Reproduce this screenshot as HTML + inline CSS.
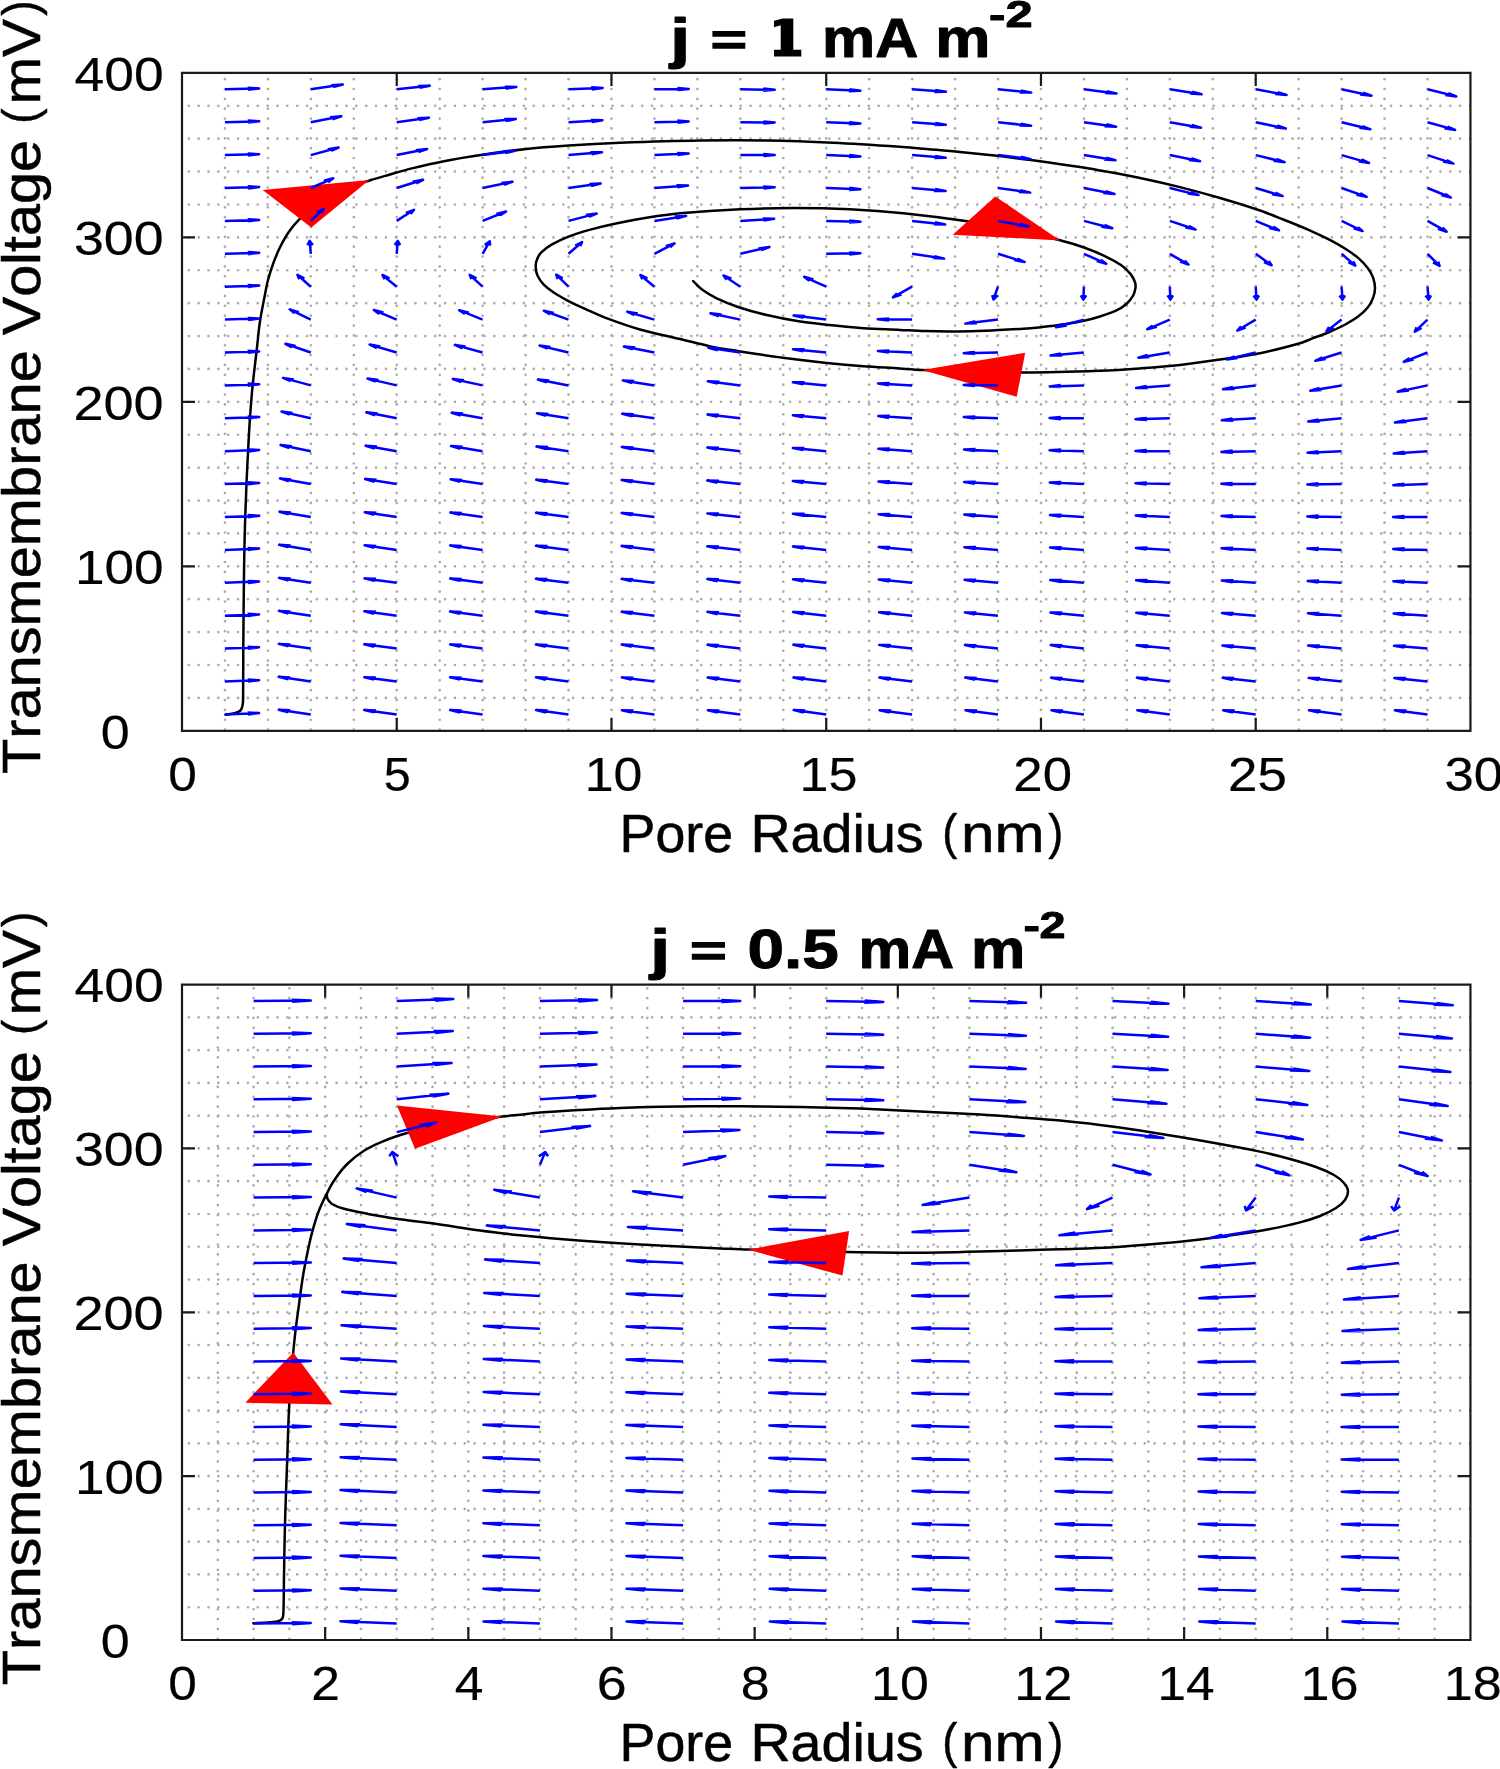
<!DOCTYPE html>
<html><head><meta charset="utf-8"><title>phase plots</title>
<style>html,body{margin:0;padding:0;background:#fff}svg{display:block}text{font-family:"Liberation Sans",sans-serif;fill:#000;font-kerning:none;stroke:#000;stroke-width:0.5px;stroke-linejoin:round}</style></head>
<body><svg width="1500" height="1769" viewBox="0 0 1500 1769">
<rect width="1500" height="1769" fill="#fff"/>
<path d="M224.95 729.60V72.90M267.90 729.60V72.90M310.85 729.60V72.90M353.79 729.60V72.90M396.74 729.60V72.90M439.69 729.60V72.90M482.64 729.60V72.90M525.59 729.60V72.90M568.54 729.60V72.90M611.48 729.60V72.90M654.43 729.60V72.90M697.38 729.60V72.90M740.33 729.60V72.90M783.28 729.60V72.90M826.23 729.60V72.90M869.17 729.60V72.90M912.12 729.60V72.90M955.07 729.60V72.90M998.02 729.60V72.90M1040.97 729.60V72.90M1083.91 729.60V72.90M1126.86 729.60V72.90M1169.81 729.60V72.90M1212.76 729.60V72.90M1255.71 729.60V72.90M1298.66 729.60V72.90M1341.61 729.60V72.90M1384.55 729.60V72.90M1427.50 729.60V72.90" fill="none" stroke="#adadad" stroke-width="2.7" stroke-linecap="round" stroke-dasharray="0.01 9.845"/>
<path d="M188.80 697.90H1470.45M188.80 665.01H1470.45M188.80 632.12H1470.45M188.80 599.22H1470.45M188.80 566.32H1470.45M188.80 533.43H1470.45M188.80 500.53H1470.45M188.80 467.64H1470.45M188.80 434.74H1470.45M188.80 401.85H1470.45M188.80 368.95H1470.45M188.80 336.06H1470.45M188.80 303.16H1470.45M188.80 270.27H1470.45M188.80 237.38H1470.45M188.80 204.48H1470.45M188.80 171.58H1470.45M188.80 138.69H1470.45M188.80 105.79H1470.45" fill="none" stroke="#adadad" stroke-width="2.7" stroke-linecap="round" stroke-dasharray="0.01 9.845"/>
<path d="M182.00 72.90H1470.45V730.80H182.00ZM396.74 730.80v-13M396.74 72.90v13M611.48 730.80v-13M611.48 72.90v13M826.23 730.80v-13M826.23 72.90v13M1040.97 730.80v-13M1040.97 72.90v13M1255.71 730.80v-13M1255.71 72.90v13M182.00 566.32h13M1470.45 566.32h-13M182.00 401.85h13M1470.45 401.85h-13M182.00 237.38h13M1470.45 237.38h-13" fill="none" stroke="#1a1a1a" stroke-width="2.2" stroke-linejoin="miter"/>
<path d="M225.5 714.7C228.5 714.2 231.6 714.0 234.5 713.2C236.6 712.6 239.1 711.9 240.5 710.5C241.8 709.2 242.2 706.9 242.6 705.0C243.1 702.7 243.1 700.3 243.1 698.0C243.3 680.9 243.2 663.8 243.3 646.7C243.4 625.1 243.7 603.6 243.9 582.0C244.0 570.9 244.2 559.9 244.4 548.8C244.6 538.5 244.9 528.3 245.2 518.0C245.6 506.4 246.0 494.8 246.5 483.2C247.0 472.4 247.5 461.5 248.1 450.7C248.7 439.6 249.2 428.4 250.0 417.3C250.8 406.5 251.6 395.6 252.7 384.8C253.9 373.2 255.4 361.6 256.7 350.0C257.8 340.7 258.5 331.3 259.9 322.0C261.2 313.3 263.0 304.7 264.7 296.0C265.7 290.7 266.6 285.3 268.0 280.0C269.5 274.4 271.3 268.8 273.3 263.3C275.3 257.9 277.4 252.5 280.0 247.3C282.8 241.8 285.8 236.3 289.3 231.3C292.4 226.8 296.1 222.6 300.0 218.7C305.7 213.1 311.5 207.5 318.0 203.0C324.8 198.3 332.4 194.3 340.0 191.0C350.0 186.6 360.6 183.4 371.0 180.0C377.3 177.9 383.7 176.3 390.0 174.5C397.3 172.4 404.6 170.2 412.0 168.4C422.6 165.8 433.3 163.3 444.0 161.2C456.7 158.7 469.6 156.7 482.4 154.8C496.2 152.7 510.1 150.7 524.0 149.2C538.9 147.6 553.9 146.5 568.8 145.5C585.9 144.4 602.9 143.5 620.0 142.8C646.7 141.8 673.3 140.9 700.0 140.5C722.2 140.2 744.5 140.1 766.7 140.5C788.9 140.9 811.1 141.7 833.3 142.7C855.5 143.7 877.8 145.2 900.0 146.7C906.7 147.1 913.3 147.8 920.0 148.4C933.3 149.6 946.7 150.6 960.0 151.9C973.3 153.2 986.7 154.6 1000.0 156.1C1013.4 157.7 1026.7 159.4 1040.0 161.2C1053.4 163.0 1066.7 165.0 1080.0 167.1C1086.7 168.1 1093.3 169.3 1100.0 170.5C1113.3 172.9 1126.7 175.2 1140.0 178.0C1153.4 180.8 1166.7 183.8 1180.0 187.1C1193.4 190.5 1206.7 194.1 1220.0 198.0C1233.4 201.9 1246.8 206.0 1260.0 210.5C1268.3 213.3 1276.4 216.8 1284.5 220.0C1292.4 223.1 1300.3 226.2 1308.0 229.6C1315.2 232.8 1322.3 236.1 1329.3 239.7C1334.8 242.5 1340.1 245.5 1345.3 248.8C1349.7 251.6 1354.1 254.5 1358.1 257.9C1361.6 260.9 1364.9 264.3 1367.7 268.0C1369.9 270.9 1371.9 274.2 1373.1 277.6C1374.3 281.0 1375.0 284.7 1375.0 288.3C1375.0 291.5 1374.2 294.9 1373.1 297.9C1371.8 301.3 1370.0 304.7 1367.7 307.5C1365.0 310.9 1361.6 313.9 1358.1 316.5C1354.1 319.5 1349.7 322.1 1345.3 324.5C1340.1 327.3 1334.7 329.7 1329.3 332.0C1323.4 334.5 1317.2 336.6 1311.2 338.9C1307.5 340.3 1303.8 342.1 1300.0 343.2C1286.8 346.9 1273.5 350.4 1260.0 353.2C1246.8 355.9 1233.4 357.6 1220.0 359.6C1206.7 361.5 1193.4 363.4 1180.0 364.9C1166.7 366.4 1153.3 367.4 1140.0 368.4C1126.7 369.4 1113.3 370.3 1100.0 370.8C1074.4 371.7 1048.9 372.6 1023.3 372.5C989.5 372.3 955.8 371.0 922.0 369.9C914.7 369.7 907.3 369.0 900.0 368.5C887.8 367.7 875.5 367.1 863.3 366.2C851.1 365.3 838.9 364.2 826.7 362.9C812.0 361.4 797.3 359.7 782.7 357.8C768.0 355.8 753.3 353.5 738.7 351.2C728.9 349.6 719.0 348.1 709.3 346.1C699.5 344.1 689.8 341.3 680.0 339.0C666.7 335.8 653.2 333.2 640.0 329.5C629.3 326.5 618.9 322.8 608.5 318.9C600.2 315.8 592.1 311.9 584.0 308.3C578.6 305.9 573.2 303.5 568.0 300.8C563.3 298.3 558.5 295.8 554.1 292.8C550.4 290.3 546.6 287.5 543.5 284.3C541.1 281.8 539.1 278.8 537.6 275.7C536.5 273.4 536.0 270.8 535.8 268.3C535.6 265.8 535.7 263.1 536.5 260.8C537.5 257.8 539.1 254.6 541.3 252.3C544.3 249.1 548.2 246.5 552.0 244.3C557.1 241.4 562.5 238.9 568.0 236.8C574.9 234.1 582.1 231.9 589.3 229.9C598.1 227.5 607.0 225.4 616.0 223.5C626.6 221.3 637.3 219.3 648.0 217.6C658.6 215.9 669.3 214.3 680.0 213.3C700.0 211.5 720.0 210.2 740.0 209.3C757.7 208.5 775.5 208.0 793.3 208.0C812.2 208.0 831.1 208.4 850.0 209.3C867.8 210.2 885.6 211.5 903.3 213.3C924.7 215.5 946.0 218.2 967.3 221.3C984.9 223.9 1002.5 226.9 1020.0 230.5C1033.4 233.3 1046.7 236.8 1060.0 240.3C1068.1 242.4 1076.1 244.7 1084.0 247.5C1091.2 250.1 1098.4 253.0 1105.3 256.3C1110.8 258.9 1116.3 261.8 1121.3 265.3C1124.9 267.8 1128.2 271.0 1130.9 274.4C1132.8 276.9 1134.2 279.9 1135.2 282.9C1135.7 284.6 1135.7 286.5 1135.4 288.3C1135.0 290.8 1134.3 293.5 1133.1 295.7C1131.4 298.6 1129.2 301.5 1126.7 303.7C1123.5 306.5 1119.8 308.9 1116.0 310.7C1110.9 313.1 1105.4 314.8 1100.0 316.5C1094.7 318.2 1089.4 319.6 1084.0 320.8C1077.0 322.3 1069.8 323.4 1062.7 324.5C1055.6 325.6 1048.4 326.4 1041.3 327.2C1034.2 327.9 1027.1 328.5 1020.0 329.0C1008.3 329.7 996.7 330.4 985.0 330.8C975.6 331.2 966.1 331.4 956.7 331.4C946.1 331.5 935.6 331.4 925.0 331.1C916.7 330.9 908.3 330.3 900.0 329.9C887.8 329.3 875.5 329.0 863.3 328.2C851.1 327.3 838.9 326.1 826.7 324.8C816.9 323.7 807.0 322.7 797.3 321.1C787.5 319.5 777.7 317.6 768.0 315.3C758.1 313.0 748.3 310.4 738.7 307.2C731.2 304.7 723.8 301.8 716.7 298.4C711.6 295.9 706.6 293.0 702.0 289.6C698.7 287.2 696.1 284.0 693.2 281.2" fill="none" stroke="#000" stroke-width="2.5" stroke-linecap="round" stroke-linejoin="round"/>
<polygon points="262.7,190.0 369.3,180.0 311.3,227.6" fill="#ff0000"/>
<polygon points="995.3,196.5 952.7,234.7 1060.2,240.4" fill="#ff0000"/>
<polygon points="922.0,369.9 1025.2,352.8 1016.7,396.8" fill="#ff0000"/>
<path d="M224.9 714.4L259.1 713.1M247.6 712.5L259.1 713.1L248.1 714.5M224.9 681.5L259.1 680.2M247.6 679.6L259.1 680.2L248.1 681.6M224.9 648.6L259.1 647.3M247.6 646.7L259.1 647.3L248.1 648.7M224.9 615.7L259.1 614.4M247.6 613.8L259.1 614.4L248.1 615.9M224.9 582.8L259.1 581.5M247.6 580.9L259.1 581.5L248.1 583.0M224.9 549.9L259.1 548.6M247.6 548.0L259.1 548.6L248.1 550.1M224.9 517.0L259.2 515.8M247.6 515.1L259.2 515.8L248.1 517.2M224.9 484.1L259.2 482.9M247.6 482.3L259.2 482.9L248.1 484.3M224.9 451.2L259.2 450.0M247.6 449.4L259.2 450.0L248.1 451.4M224.9 418.3L259.2 417.1M247.6 416.5L259.2 417.1L248.1 418.5M224.9 385.4L259.2 384.3M247.6 383.6L259.2 384.3L248.1 385.7M224.9 352.5L259.2 351.4M247.6 350.7L259.2 351.4L248.1 352.8M224.9 319.6L259.2 318.5M247.7 317.9L259.2 318.5L248.1 319.9M224.9 286.7L259.2 285.6M247.7 285.0L259.2 285.6L248.1 287.0M224.9 253.8L259.2 252.8M247.7 252.1L259.2 252.8L248.1 254.2M224.9 220.9L259.2 219.9M247.7 219.2L259.2 219.9L248.1 221.3M224.9 188.0L259.2 187.0M247.7 186.3L259.2 187.0L248.1 188.4M224.9 155.1L259.2 154.2M247.7 153.5L259.2 154.2L248.1 155.5M224.9 122.2L259.2 121.3M247.7 120.6L259.2 121.3L248.1 122.6M224.9 89.3L259.2 88.4M247.7 87.7L259.2 88.4L248.1 89.8M310.8 714.4L278.7 709.7M288.4 712.2L278.7 709.7L290.3 710.3M310.8 681.5L278.7 676.8M288.4 679.3L278.7 676.8L290.3 677.4M310.8 648.6L278.8 643.9M288.4 646.4L278.8 643.9L290.4 644.5M310.8 615.7L278.9 610.9M288.4 613.5L278.9 610.9L290.4 611.5M310.8 582.8L279.0 577.9M288.5 580.5L279.0 577.9L290.6 578.6M310.8 549.9L279.2 544.8M288.6 547.4L279.2 544.8L290.7 545.5M310.8 517.0L279.5 511.7M288.7 514.4L279.5 511.7L291.0 512.5M310.8 484.1L279.9 478.4M288.9 481.2L279.9 478.4L291.3 479.4M310.8 451.2L280.6 445.1M289.3 448.0L280.6 445.1L291.9 446.2M310.8 418.3L281.5 411.6M289.8 414.7L281.5 411.6L292.6 412.9M310.8 385.4L283.0 377.9M290.6 381.2L283.0 377.9L293.8 379.5M310.8 352.5L285.4 343.8M292.0 347.5L285.4 343.8L295.7 345.9M310.8 319.6L289.7 309.4M294.5 313.4L289.7 309.4L298.9 312.2M310.8 286.7L297.4 274.8M299.3 279.2L297.4 274.8L304.4 278.3M310.8 253.8L309.7 240.9M307.4 245.2L309.7 240.9L312.9 245.1M310.8 220.9L323.5 208.9M316.8 212.5L323.5 208.9L321.9 213.3M310.8 188.0L333.3 178.3M323.8 180.8L333.3 178.3L328.0 182.2M310.8 155.1L338.6 147.5M327.8 149.2L338.6 147.5L331.1 150.9M310.8 122.2L341.3 116.3M330.0 117.3L341.3 116.3L332.5 119.2M310.8 89.3L342.7 84.6M331.2 85.2L342.7 84.6L333.2 87.1M396.7 714.4L364.3 710.0M374.1 712.4L364.3 710.0L376.0 710.5M396.7 681.5L364.3 677.2M374.1 679.6L364.3 677.2L375.9 677.6M396.7 648.6L364.3 644.3M374.1 646.7L364.3 644.3L375.9 644.7M396.7 615.7L364.4 611.3M374.1 613.7L364.4 611.3L376.0 611.8M396.7 582.8L364.5 578.4M374.2 580.8L364.5 578.4L376.1 578.8M396.7 549.9L364.6 545.3M374.2 547.8L364.6 545.3L376.2 545.9M396.7 517.0L364.8 512.2M374.3 514.8L364.8 512.2L376.4 512.8M396.7 484.1L365.1 479.0M374.5 481.7L365.1 479.0L376.6 479.8M396.7 451.2L365.6 445.7M374.7 448.5L365.6 445.7L377.0 446.6M396.7 418.3L366.3 412.3M375.1 415.2L366.3 412.3L377.6 413.4M396.7 385.4L367.5 378.6M375.7 381.7L367.5 378.6L378.6 380.0M396.7 352.5L369.7 344.6M376.9 348.0L369.7 344.6L380.3 346.4M396.7 319.6L373.8 310.0M379.3 313.9L373.8 310.0L383.4 312.5M396.7 286.7L382.4 275.0M384.6 279.3L382.4 275.0L389.6 278.4M396.7 253.8L397.8 240.9M394.7 245.1L397.8 240.9L400.2 245.2M396.7 220.9L414.0 209.8M405.9 212.9L414.0 209.8L410.7 214.0M396.7 188.0L423.1 179.8M412.6 181.7L423.1 179.8L416.2 183.3M396.7 155.1L427.1 149.1M415.8 150.2L427.1 149.1L418.4 152.0M396.7 122.2L428.9 117.7M417.3 118.2L428.9 117.7L419.2 120.1M396.7 89.3L429.8 85.8M418.1 86.0L429.8 85.8L419.6 87.9M482.6 714.4L450.2 710.1M460.0 712.5L450.2 710.1L461.8 710.5M482.6 681.5L450.1 677.3M460.0 679.6L450.1 677.3L461.8 677.7M482.6 648.6L450.1 644.4M460.0 646.7L450.1 644.4L461.7 644.8M482.6 615.7L450.1 611.5M460.0 613.8L450.1 611.5L461.7 611.9M482.6 582.8L450.2 578.5M460.0 580.9L450.2 578.5L461.8 579.0M482.6 549.9L450.3 545.5M460.0 547.9L450.3 545.5L461.9 546.0M482.6 517.0L450.4 512.5M460.1 514.9L450.4 512.5L462.0 513.0M482.6 484.1L450.7 479.3M460.2 481.9L450.7 479.3L462.2 479.9M482.6 451.2L451.1 446.1M460.4 448.7L451.1 446.1L462.6 446.8M482.6 418.3L451.7 412.7M460.7 415.5L451.7 412.7L463.1 413.6M482.6 385.4L452.8 379.0M461.3 382.0L452.8 379.0L464.0 380.2M482.6 352.5L454.8 344.9M462.4 348.3L454.8 344.9L465.6 346.6M482.6 319.6L459.2 310.2M464.9 314.0L459.2 310.2L468.9 312.6M482.6 286.7L469.7 274.8M471.4 279.1L469.7 274.8L476.5 278.3M482.6 253.8L489.8 241.2M484.7 245.1L489.8 241.2L490.1 245.6M482.6 220.9L506.1 211.5M496.3 213.9L506.1 211.5L500.3 215.3M482.6 188.0L512.5 181.7M501.3 182.9L512.5 181.7L504.0 184.7M482.6 155.1L514.9 150.7M503.3 151.2L514.9 150.7L505.2 153.1M482.6 122.2L515.9 119.0M504.2 119.1L515.9 119.0L505.6 121.1M482.6 89.3L516.4 86.9M504.7 86.7L516.4 86.9L505.8 88.7M568.5 714.4L536.1 710.1M545.9 712.5L536.1 710.1L547.7 710.5M568.5 681.5L536.0 677.3M545.8 679.7L536.0 677.3L547.6 677.7M568.5 648.6L535.9 644.5M545.8 646.8L535.9 644.5L547.6 644.9M568.5 615.7L535.9 611.6M545.8 613.9L535.9 611.6L547.5 612.0M568.5 582.8L535.9 578.7M545.8 581.0L535.9 578.7L547.5 579.1M568.5 549.9L536.0 545.8M545.8 548.1L536.0 545.8L547.6 546.1M568.5 517.0L536.1 512.8M545.9 515.1L536.1 512.8L547.7 513.2M568.5 484.1L536.2 479.7M546.0 482.1L536.2 479.7L547.8 480.2M568.5 451.2L536.5 446.5M546.1 449.0L536.5 446.5L548.1 447.1M568.5 418.3L537.0 413.2M546.3 415.8L537.0 413.2L548.5 413.9M568.5 385.4L537.9 379.6M546.7 382.4L537.9 379.6L549.2 380.6M568.5 352.5L539.6 345.6M547.7 348.7L539.6 345.6L550.6 347.0M568.5 319.6L543.8 310.7M550.0 314.4L543.8 310.7L553.9 312.9M568.5 286.7L556.2 274.7M557.7 279.0L556.2 274.7L562.8 278.3M568.5 253.8L582.1 242.0M575.1 245.5L582.1 242.0L580.1 246.3M568.5 220.9L596.7 213.6M585.9 215.1L596.7 213.6L589.0 216.8M568.5 188.0L600.7 183.5M589.2 184.1L600.7 183.5L591.1 186.0M568.5 155.1L602.0 152.2M590.3 152.2L602.0 152.2L591.6 154.2M568.5 122.2L602.5 120.2M590.8 119.9L602.5 120.2L591.7 121.9M568.5 89.3L602.7 87.9M591.1 87.3L602.7 87.9L591.7 89.4M654.4 714.4L621.9 710.2M631.8 712.5L621.9 710.2L633.6 710.6M654.4 681.5L621.8 677.4M631.7 679.7L621.8 677.4L633.4 677.8M654.4 648.6L621.7 644.6M631.7 646.9L621.7 644.6L633.4 644.9M654.4 615.7L621.7 611.8M631.6 614.1L621.7 611.8L633.3 612.1M654.4 582.8L621.6 578.9M631.6 581.2L621.6 578.9L633.3 579.2M654.4 549.9L621.6 546.0M631.6 548.3L621.6 546.0L633.3 546.3M654.4 517.0L621.7 513.1M631.6 515.4L621.7 513.1L633.3 513.4M654.4 484.1L621.7 480.1M631.7 482.4L621.7 480.1L633.4 480.4M654.4 451.2L621.9 447.0M631.8 449.4L621.9 447.0L633.5 447.4M654.4 418.3L622.2 413.8M631.9 416.3L622.2 413.8L633.8 414.3M654.4 385.4L622.8 380.4M632.1 383.0L622.8 380.4L634.3 381.1M654.4 352.5L623.9 346.6M632.7 349.4L623.9 346.6L635.3 347.6M654.4 319.6L627.2 311.7M634.5 315.2L627.2 311.7L637.8 313.5M654.4 286.7L640.3 275.0M642.4 279.3L640.3 275.0L647.5 278.4M654.4 253.8L674.5 243.4M665.7 246.2L674.5 243.4L670.1 247.4M654.4 220.9L686.1 215.9M674.6 216.6L686.1 215.9L676.7 218.5M654.4 188.0L688.1 185.4M676.4 185.2L688.1 185.4L677.5 187.3M654.4 155.1L688.6 153.6M677.0 153.1L688.6 153.6L677.6 155.1M654.4 122.2L688.7 121.4M677.2 120.6L688.7 121.4L677.6 122.7M654.4 89.3L688.8 88.9M677.3 88.0L688.8 88.9L677.5 90.1M740.3 714.4L707.8 710.2M717.7 712.5L707.8 710.2L719.4 710.6M740.3 681.5L707.7 677.5M717.6 679.8L707.7 677.5L719.3 677.8M740.3 648.6L707.5 644.7M717.5 647.0L707.5 644.7L719.2 645.0M740.3 615.7L707.4 611.9M717.5 614.2L707.4 611.9L719.1 612.2M740.3 582.8L707.4 579.1M717.5 581.3L707.4 579.1L719.0 579.3M740.3 549.9L707.3 546.3M717.4 548.5L707.3 546.3L719.0 546.5M740.3 517.0L707.3 513.4M717.4 515.6L707.3 513.4L718.9 513.6M740.3 484.1L707.3 480.5M717.4 482.7L707.3 480.5L719.0 480.7M740.3 451.2L707.4 447.6M717.5 449.8L707.4 447.6L719.0 447.8M740.3 418.3L707.5 414.5M717.5 416.7L707.5 414.5L719.1 414.8M740.3 385.4L707.8 381.3M717.6 383.6L707.8 381.3L719.4 381.7M740.3 352.5L708.4 347.7M717.9 350.3L708.4 347.7L720.0 348.4M740.3 319.6L710.4 313.3M718.9 316.3L710.4 313.3L721.6 314.5M740.3 286.7L723.5 275.5M726.6 279.7L723.5 275.5L731.4 278.7M740.3 253.8L769.4 247.0M758.4 248.4L769.4 247.0L761.3 250.1M740.3 220.9L774.2 218.8M762.6 218.5L774.2 218.8L763.5 220.5M740.3 188.0L774.6 187.3M763.2 186.5L774.6 187.3L763.5 188.6M740.3 155.1L774.7 155.1M763.3 154.1L774.7 155.1L763.4 156.1M740.3 122.2L774.7 122.5M763.4 121.4L774.7 122.5L763.3 123.5M740.3 89.3L774.7 89.8M763.4 88.6L774.7 89.8L763.2 90.7M826.2 714.4L793.7 710.1M803.6 712.5L793.7 710.1L805.4 710.6M826.2 681.5L793.5 677.5M803.5 679.8L793.5 677.5L805.2 677.8M826.2 648.6L793.4 644.8M803.4 647.0L793.4 644.8L805.0 645.0M826.2 615.7L793.2 612.1M803.4 614.2L793.2 612.1L804.9 612.3M826.2 582.8L793.1 579.3M803.3 581.5L793.1 579.3L804.8 579.5M826.2 549.9L793.0 546.6M803.3 548.6L793.0 546.6L804.7 546.7M826.2 517.0L793.0 513.8M803.2 515.8L793.0 513.8L804.6 513.8M826.2 484.1L792.9 481.0M803.2 483.0L792.9 481.0L804.6 481.0M826.2 451.2L792.9 448.1M803.2 450.1L792.9 448.1L804.5 448.1M826.2 418.3L792.9 415.2M803.2 417.2L792.9 415.2L804.5 415.2M826.2 385.4L792.9 382.3M803.2 384.3L792.9 382.3L804.6 382.3M826.2 352.5L793.0 349.2M803.3 351.3L793.0 349.2L804.7 349.3M826.2 319.6L793.6 315.6M803.5 317.9L793.6 315.6L805.2 315.9M826.2 286.7L804.1 276.8M809.3 280.8L804.1 276.8L813.5 279.4M826.2 253.8L860.5 253.2M849.1 252.4L860.5 253.2L849.4 254.4M826.2 220.9L860.5 221.7M849.4 220.4L860.5 221.7L849.0 222.5M826.2 188.0L860.4 189.2M849.4 187.8L860.4 189.2L848.9 189.9M826.2 155.1L860.4 156.5M849.4 155.0L860.4 156.5L848.8 157.1M826.2 122.2L860.4 123.6M849.4 122.2L860.4 123.6L848.8 124.2M826.2 89.3L860.4 90.8M849.4 89.3L860.4 90.8L848.8 91.3M912.1 714.4L879.6 710.2M889.5 712.5L879.6 710.2L891.2 710.6M912.1 681.5L879.4 677.5M889.4 679.8L879.4 677.5L891.0 677.9M912.1 648.6L879.2 644.9M889.3 647.1L879.2 644.9L890.8 645.1M912.1 615.7L879.0 612.2M889.2 614.4L879.0 612.2L890.7 612.4M912.1 582.8L878.8 579.6M889.1 581.6L878.8 579.6L890.5 579.6M912.1 549.9L878.7 546.9M889.1 548.9L878.7 546.9L890.4 546.9M912.1 517.0L878.6 514.2M889.1 516.1L878.6 514.2L890.3 514.1M912.1 484.1L878.5 481.5M889.0 483.3L878.5 481.5L890.1 481.3M912.1 451.2L878.4 448.8M889.0 450.6L878.4 448.8L890.0 448.6M912.1 418.3L878.3 416.1M889.0 417.9L878.3 416.1L889.9 415.8M912.1 385.4L878.1 383.5M888.9 385.2L878.1 383.5L889.7 383.1M912.1 352.5L878.0 351.1M888.9 352.6L878.0 351.1L889.5 350.5M912.1 319.6L877.8 319.3M889.0 320.5L877.8 319.3L889.2 318.4M912.1 286.7L892.9 297.4M901.5 294.5L892.9 297.4L897.0 293.3M912.1 253.8L944.1 258.6M934.5 256.1L944.1 258.6L932.5 258.0M912.1 220.9L945.2 224.4M935.0 222.2L945.2 224.4L933.6 224.2M912.1 188.0L945.6 191.0M935.2 189.0L945.6 191.0L933.9 191.0M912.1 155.1L945.7 157.8M935.2 155.9L945.7 157.8L934.1 157.9M912.1 122.2L945.8 124.7M935.2 122.9L945.8 124.7L934.2 124.9M912.1 89.3L945.9 91.7M935.3 89.9L945.9 91.7L934.3 91.9M998.0 714.4L965.5 710.2M975.3 712.5L965.5 710.2L977.1 710.6M998.0 681.5L965.2 677.6M975.2 679.9L965.2 677.6L976.9 677.9M998.0 648.6L965.0 645.0M975.1 647.2L965.0 645.0L976.6 645.2M998.0 615.7L964.8 612.4M975.0 614.5L964.8 612.4L976.4 612.5M998.0 582.8L964.6 579.8M975.0 581.8L964.6 579.8L976.2 579.8M998.0 549.9L964.4 547.2M974.9 549.1L964.4 547.2L976.1 547.1M998.0 517.0L964.3 514.6M974.9 516.4L964.3 514.6L975.9 514.4M998.0 484.1L964.1 482.0M974.9 483.7L964.1 482.0L975.7 481.7M998.0 451.2L964.0 449.5M974.8 451.1L964.0 449.5L975.6 449.0M998.0 418.3L963.8 417.1M974.8 418.5L963.8 417.1L975.4 416.5M998.0 385.4L963.7 384.9M974.9 386.1L963.7 384.9L975.1 384.0M998.0 352.5L963.7 353.3M975.2 354.1L963.7 353.3L974.9 352.0M998.0 319.6L965.3 323.6M977.0 323.3L965.3 323.6L975.3 321.3M998.0 286.7L993.4 299.5M997.7 295.4L993.4 299.5L992.2 295.2M998.0 253.8L1024.7 262.0M1017.6 258.5L1024.7 262.0L1014.2 260.1M998.0 220.9L1028.9 226.5M1019.9 223.8L1028.9 226.5L1017.5 225.6M998.0 188.0L1030.2 192.6M1020.5 190.1L1030.2 192.6L1018.6 192.0M998.0 155.1L1030.7 159.1M1020.8 156.8L1030.7 159.1L1019.1 158.8M998.0 122.2L1031.1 125.8M1020.9 123.6L1031.1 125.8L1019.4 125.6M998.0 89.3L1031.3 92.6M1021.0 90.5L1031.3 92.6L1019.6 92.5M1083.9 714.4L1051.4 710.2M1061.2 712.5L1051.4 710.2L1063.0 710.6M1083.9 681.5L1051.1 677.7M1061.1 679.9L1051.1 677.7L1062.7 677.9M1083.9 648.6L1050.8 645.1M1061.0 647.3L1050.8 645.1L1062.4 645.3M1083.9 615.7L1050.5 612.6M1060.9 614.6L1050.5 612.6L1062.2 612.6M1083.9 582.8L1050.3 580.0M1060.8 582.0L1050.3 580.0L1062.0 579.9M1083.9 549.9L1050.1 547.5M1060.8 549.3L1050.1 547.5L1061.8 547.3M1083.9 517.0L1050.0 515.0M1060.7 516.7L1050.0 515.0L1061.6 514.7M1083.9 484.1L1049.8 482.6M1060.7 484.1L1049.8 482.6L1061.4 482.1M1083.9 451.2L1049.6 450.3M1060.8 451.6L1049.6 450.3L1061.2 449.5M1083.9 418.3L1049.6 418.1M1060.9 419.2L1049.6 418.1L1060.9 417.1M1083.9 385.4L1049.7 386.4M1061.2 387.1L1049.7 386.4L1060.8 385.0M1083.9 352.5L1050.5 355.6M1062.2 355.6L1050.5 355.6L1060.9 353.5M1083.9 319.6L1056.0 327.2M1066.8 325.5L1056.0 327.2L1063.6 323.8M1083.9 286.7L1083.4 299.6M1086.3 295.4L1083.4 299.6L1080.8 295.4M1083.9 253.8L1106.2 263.7M1100.9 259.7L1106.2 263.7L1096.7 261.1M1083.9 220.9L1112.3 228.2M1104.5 224.9L1112.3 228.2L1101.4 226.7M1083.9 188.0L1114.5 193.9M1105.6 191.1L1114.5 193.9L1103.1 192.9M1083.9 155.1L1115.5 160.2M1106.2 157.6L1115.5 160.2L1104.0 159.5M1083.9 122.2L1116.1 126.8M1106.4 124.3L1116.1 126.8L1104.5 126.2M1083.9 89.3L1116.5 93.5M1106.6 91.1L1116.5 93.5L1104.9 93.1M1169.8 714.4L1137.3 710.2M1147.1 712.6L1137.3 710.2L1148.9 710.6M1169.8 681.5L1136.9 677.7M1147.0 680.0L1136.9 677.7L1148.6 678.0M1169.8 648.6L1136.6 645.3M1146.9 647.4L1136.6 645.3L1148.3 645.4M1169.8 615.7L1136.3 612.8M1146.8 614.7L1136.3 612.8L1148.0 612.7M1169.8 582.8L1136.1 580.3M1146.7 582.1L1136.1 580.3L1147.7 580.1M1169.8 549.9L1135.9 547.9M1146.6 549.6L1135.9 547.9L1147.5 547.5M1169.8 517.0L1135.7 515.5M1146.6 517.0L1135.7 515.5L1147.3 515.0M1169.8 484.1L1135.5 483.2M1146.7 484.5L1135.5 483.2L1147.0 482.5M1169.8 451.2L1135.5 451.1M1146.8 452.1L1135.5 451.1L1146.8 450.1M1169.8 418.3L1135.5 419.2M1147.0 419.9L1135.5 419.2L1146.7 417.9M1169.8 385.4L1136.1 387.9M1147.7 388.1L1136.1 387.9L1146.7 386.1M1169.8 352.5L1138.3 357.7M1149.8 356.9L1138.3 357.7L1147.6 355.0M1169.8 319.6L1147.2 329.3M1156.8 326.8L1147.2 329.3L1152.6 325.5M1169.8 286.7L1170.4 299.6M1173.0 295.3L1170.4 299.6L1167.5 295.4M1169.8 253.8L1188.5 264.6M1184.7 260.5L1188.5 264.6L1180.1 261.6M1169.8 220.9L1195.6 229.5M1188.9 225.9L1195.6 229.5L1185.3 227.4M1169.8 188.0L1198.6 195.1M1190.6 191.9L1198.6 195.1L1187.6 193.6M1169.8 155.1L1200.1 161.2M1191.4 158.3L1200.1 161.2L1188.8 160.1M1169.8 122.2L1201.0 127.7M1191.9 124.9L1201.0 127.7L1189.6 126.8M1169.8 89.3L1201.6 94.3M1192.1 91.7L1201.6 94.3L1190.1 93.6M1255.7 714.4L1223.1 710.2M1233.0 712.6L1223.1 710.2L1234.8 710.6M1255.7 681.5L1222.7 677.8M1232.8 680.0L1222.7 677.8L1234.4 678.0M1255.7 648.6L1222.4 645.4M1232.7 647.4L1222.4 645.4L1234.1 645.4M1255.7 615.7L1222.1 613.0M1232.6 614.9L1222.1 613.0L1233.8 612.9M1255.7 582.8L1221.8 580.6M1232.6 582.3L1221.8 580.6L1233.5 580.3M1255.7 549.9L1221.6 548.3M1232.5 549.8L1221.6 548.3L1233.2 547.8M1255.7 517.0L1221.5 516.0M1232.5 517.3L1221.5 516.0L1233.0 515.3M1255.7 484.1L1221.4 483.8M1232.6 485.0L1221.4 483.8L1232.7 482.9M1255.7 451.2L1221.4 451.9M1232.9 452.7L1221.4 451.9L1232.6 450.6M1255.7 418.3L1221.8 420.3M1233.4 420.7L1221.8 420.3L1232.5 418.6M1255.7 385.4L1223.0 389.3M1234.6 389.0L1223.0 389.3L1232.9 387.0M1255.7 352.5L1226.7 359.4M1237.7 358.0L1226.7 359.4L1234.8 356.3M1255.7 319.6L1237.3 330.5M1245.7 327.5L1237.3 330.5L1241.1 326.4M1255.7 286.7L1256.5 299.6M1259.0 295.3L1256.5 299.6L1253.5 295.4M1255.7 253.8L1271.6 265.3M1268.8 261.0L1271.6 265.3L1263.9 262.0M1255.7 220.9L1279.0 230.4M1273.3 226.6L1279.0 230.4L1269.3 228.0M1255.7 188.0L1282.6 196.1M1275.4 192.6L1282.6 196.1L1272.0 194.2M1255.7 155.1L1284.6 162.2M1276.5 159.0L1284.6 162.2L1273.5 160.7M1255.7 122.2L1285.8 128.5M1277.2 125.5L1285.8 128.5L1274.5 127.3M1255.7 89.3L1286.6 95.0M1277.6 92.2L1286.6 95.0L1275.2 94.1M1341.6 714.4L1309.0 710.3M1318.9 712.6L1309.0 710.3L1320.6 710.6M1341.6 681.5L1308.6 677.9M1318.7 680.1L1308.6 677.9L1320.2 678.1M1341.6 648.6L1308.2 645.5M1318.6 647.5L1308.2 645.5L1319.9 645.5M1341.6 615.7L1307.9 613.2M1318.5 615.0L1307.9 613.2L1319.5 613.0M1341.6 582.8L1307.6 580.9M1318.4 582.5L1307.6 580.9L1319.2 580.5M1341.6 549.9L1307.4 548.6M1318.4 550.1L1307.4 548.6L1319.0 548.0M1341.6 517.0L1307.3 516.5M1318.5 517.7L1307.3 516.5L1318.7 515.6M1341.6 484.1L1307.3 484.5M1318.7 485.4L1307.3 484.5L1318.5 483.3M1341.6 451.2L1307.5 452.7M1319.1 453.3L1307.5 452.7L1318.4 451.2M1341.6 418.3L1308.2 421.4M1319.9 421.4L1308.2 421.4L1318.6 419.4M1341.6 385.4L1310.2 390.7M1321.7 389.9L1310.2 390.7L1319.5 388.0M1341.6 352.5L1315.3 360.8M1325.7 358.9L1315.3 360.8L1322.2 357.3M1341.6 319.6L1326.5 331.2M1333.9 327.8L1326.5 331.2L1329.0 326.9M1341.6 286.7L1342.5 299.6M1345.0 295.3L1342.5 299.6L1339.5 295.4M1341.6 253.8L1355.3 265.7M1353.3 261.3L1355.3 265.7L1348.3 262.2M1341.6 220.9L1362.6 231.1M1357.9 227.1L1362.6 231.1L1353.5 228.4M1341.6 188.0L1366.6 196.9M1360.2 193.2L1366.6 196.9L1356.5 194.7M1341.6 155.1L1369.0 162.9M1361.6 159.5L1369.0 162.9L1358.3 161.2M1341.6 122.2L1370.5 129.3M1362.4 126.1L1370.5 129.3L1359.4 127.8M1341.6 89.3L1371.5 95.7M1363.0 92.7L1371.5 95.7L1360.2 94.5M1427.5 714.4L1394.9 710.3M1404.8 712.6L1394.9 710.3L1406.5 710.6M1427.5 681.5L1394.4 678.0M1404.6 680.1L1394.4 678.0L1406.1 678.1M1427.5 648.6L1394.0 645.7M1404.4 647.6L1394.0 645.7L1405.7 645.6M1427.5 615.7L1393.7 613.4M1404.4 615.2L1393.7 613.4L1405.3 613.1M1427.5 582.8L1393.4 581.2M1404.3 582.7L1393.4 581.2L1405.0 580.7M1427.5 549.9L1393.2 549.0M1404.4 550.3L1393.2 549.0L1404.7 548.3M1427.5 517.0L1393.1 517.0M1404.5 518.0L1393.1 517.0L1404.5 516.0M1427.5 484.1L1393.3 485.2M1404.8 485.8L1393.3 485.2L1404.3 483.8M1427.5 451.2L1393.7 453.6M1405.4 453.8L1393.7 453.6L1404.4 451.8M1427.5 418.3L1394.9 422.4M1406.6 422.0L1394.9 422.4L1404.8 420.1M1427.5 385.4L1397.7 391.8M1408.9 390.6L1397.7 391.8L1406.2 388.8M1427.5 352.5L1403.8 361.9M1413.6 359.5L1403.8 361.9L1409.6 358.1M1427.5 319.6L1414.8 331.6M1421.6 328.0L1414.8 331.6L1416.5 327.3M1427.5 286.7L1428.6 299.6M1431.0 295.3L1428.6 299.6L1425.5 295.4M1427.5 253.8L1439.6 265.9M1438.2 261.6L1439.6 265.9L1433.0 262.3M1427.5 220.9L1446.6 231.7M1442.6 227.6L1446.6 231.7L1438.0 228.7M1427.5 188.0L1450.8 197.5M1445.1 193.7L1450.8 197.5L1441.1 195.1M1427.5 155.1L1453.4 163.6M1446.7 160.0L1453.4 163.6L1443.0 161.6M1427.5 122.2L1455.1 129.9M1447.6 126.6L1455.1 129.9L1444.4 128.2M1427.5 89.3L1456.3 96.4M1448.3 93.2L1456.3 96.4L1445.3 94.9" fill="none" stroke="#0000ff" stroke-width="2.5" stroke-linecap="butt" stroke-linejoin="round"/>
<path d="M217.79 1638.80V984.60M253.58 1638.80V984.60M289.37 1638.80V984.60M325.16 1638.80V984.60M360.95 1638.80V984.60M396.74 1638.80V984.60M432.53 1638.80V984.60M468.32 1638.80V984.60M504.11 1638.80V984.60M539.90 1638.80V984.60M575.69 1638.80V984.60M611.48 1638.80V984.60M647.27 1638.80V984.60M683.06 1638.80V984.60M718.85 1638.80V984.60M754.64 1638.80V984.60M790.43 1638.80V984.60M826.23 1638.80V984.60M862.02 1638.80V984.60M897.81 1638.80V984.60M933.60 1638.80V984.60M969.39 1638.80V984.60M1005.18 1638.80V984.60M1040.97 1638.80V984.60M1076.76 1638.80V984.60M1112.55 1638.80V984.60M1148.34 1638.80V984.60M1184.13 1638.80V984.60M1219.92 1638.80V984.60M1255.71 1638.80V984.60M1291.50 1638.80V984.60M1327.29 1638.80V984.60M1363.08 1638.80V984.60M1398.87 1638.80V984.60M1434.66 1638.80V984.60" fill="none" stroke="#adadad" stroke-width="2.7" stroke-linecap="round" stroke-dasharray="0.01 9.845"/>
<path d="M188.80 1607.23H1470.45M188.80 1574.46H1470.45M188.80 1541.69H1470.45M188.80 1508.92H1470.45M188.80 1476.15H1470.45M188.80 1443.38H1470.45M188.80 1410.61H1470.45M188.80 1377.84H1470.45M188.80 1345.07H1470.45M188.80 1312.30H1470.45M188.80 1279.53H1470.45M188.80 1246.76H1470.45M188.80 1213.99H1470.45M188.80 1181.22H1470.45M188.80 1148.45H1470.45M188.80 1115.68H1470.45M188.80 1082.91H1470.45M188.80 1050.14H1470.45M188.80 1017.37H1470.45" fill="none" stroke="#adadad" stroke-width="2.7" stroke-linecap="round" stroke-dasharray="0.01 9.845"/>
<path d="M182.00 984.60H1470.45V1640.00H182.00ZM325.16 1640.00v-13M325.16 984.60v13M468.32 1640.00v-13M468.32 984.60v13M611.48 1640.00v-13M611.48 984.60v13M754.64 1640.00v-13M754.64 984.60v13M897.81 1640.00v-13M897.81 984.60v13M1040.97 1640.00v-13M1040.97 984.60v13M1184.13 1640.00v-13M1184.13 984.60v13M1327.29 1640.00v-13M1327.29 984.60v13M182.00 1476.15h13M1470.45 1476.15h-13M182.00 1312.30h13M1470.45 1312.30h-13M182.00 1148.45h13M1470.45 1148.45h-13" fill="none" stroke="#1a1a1a" stroke-width="2.2" stroke-linejoin="miter"/>
<path d="M253.3 1623.3C258.9 1623.0 264.4 1622.8 270.0 1622.3C272.8 1622.1 275.8 1622.0 278.5 1621.2C279.9 1620.8 281.6 1619.7 282.3 1618.5C283.2 1617.0 283.3 1614.9 283.4 1613.0C283.9 1600.6 283.8 1588.1 284.0 1575.7C284.2 1565.5 284.3 1555.2 284.5 1545.0C284.7 1534.4 285.0 1523.9 285.3 1513.3C285.9 1495.5 286.5 1477.8 287.2 1460.0C287.9 1441.3 288.2 1422.6 289.3 1404.0C290.3 1386.6 291.8 1369.3 293.3 1352.0C294.0 1343.6 295.0 1335.1 296.0 1326.7C296.8 1320.0 297.8 1313.4 298.7 1306.7C300.1 1296.5 301.3 1286.2 303.0 1276.0C304.4 1267.3 306.2 1258.7 308.0 1250.1C309.2 1244.3 310.4 1238.5 312.0 1232.8C313.9 1225.8 315.9 1218.8 318.4 1212.0C320.7 1206.0 323.5 1200.2 326.4 1194.4C328.9 1189.5 331.3 1184.5 334.4 1180.0C338.2 1174.4 342.4 1168.8 347.2 1164.0C352.0 1159.2 357.5 1154.8 363.2 1151.2C369.2 1147.4 375.8 1144.3 382.4 1141.6C390.7 1138.2 399.3 1135.1 408.0 1132.8C421.8 1129.2 435.9 1126.4 450.0 1124.0C467.4 1121.0 484.9 1118.8 502.4 1116.5C508.2 1115.7 514.1 1115.3 520.0 1114.7C526.7 1114.0 533.3 1113.1 540.0 1112.6C553.3 1111.6 566.7 1110.8 580.0 1110.0C593.3 1109.2 606.7 1108.5 620.0 1108.0C633.3 1107.5 646.7 1107.1 660.0 1106.8C673.3 1106.5 686.7 1106.3 700.0 1106.2C713.3 1106.1 726.7 1106.1 740.0 1106.2C753.3 1106.3 766.7 1106.5 780.0 1106.7C793.3 1106.9 806.7 1107.1 820.0 1107.4C833.3 1107.7 846.7 1108.1 860.0 1108.6C873.3 1109.1 886.7 1109.8 900.0 1110.4C913.3 1111.0 926.7 1111.7 940.0 1112.4C953.3 1113.1 966.7 1113.8 980.0 1114.6C993.3 1115.4 1006.7 1116.4 1020.0 1117.4C1033.3 1118.4 1046.7 1119.3 1060.0 1120.6C1073.4 1121.9 1086.7 1123.4 1100.0 1125.0C1113.4 1126.6 1126.7 1128.4 1140.0 1130.4C1153.4 1132.4 1166.7 1134.7 1180.0 1137.0C1193.3 1139.3 1206.7 1141.6 1220.0 1144.0C1233.4 1146.4 1246.7 1148.8 1260.0 1151.6C1270.1 1153.8 1280.1 1156.3 1290.0 1159.0C1298.7 1161.4 1307.5 1163.9 1316.0 1167.0C1322.2 1169.2 1328.3 1171.8 1334.0 1175.0C1337.7 1177.1 1341.3 1179.9 1344.0 1183.0C1345.9 1185.2 1347.8 1188.3 1348.0 1191.0C1348.2 1193.9 1346.8 1197.5 1345.0 1200.0C1342.8 1203.2 1339.4 1205.9 1336.0 1208.0C1331.0 1211.2 1325.5 1213.8 1320.0 1216.0C1313.5 1218.6 1306.8 1220.6 1300.0 1222.4C1290.1 1225.0 1280.0 1227.1 1270.0 1229.0C1260.0 1230.9 1250.0 1232.5 1240.0 1234.0C1226.7 1236.0 1213.4 1237.8 1200.0 1239.4C1186.7 1241.0 1173.4 1242.4 1160.0 1243.6C1143.4 1245.1 1126.7 1246.5 1110.0 1247.4C1093.4 1248.3 1076.7 1248.6 1060.0 1249.2C1046.7 1249.6 1033.3 1250.0 1020.0 1250.4C1006.7 1250.8 993.3 1251.2 980.0 1251.6C966.7 1252.0 953.3 1252.4 940.0 1252.6C926.7 1252.8 913.3 1252.9 900.0 1252.8C882.0 1252.7 864.0 1252.3 846.0 1252.0C830.7 1251.7 815.3 1251.4 800.0 1251.0C782.7 1250.6 765.3 1250.2 748.0 1249.6C738.7 1249.3 729.3 1248.8 720.0 1248.4C706.7 1247.8 693.3 1247.3 680.0 1246.6C666.7 1245.9 653.3 1245.2 640.0 1244.4C626.7 1243.6 613.3 1242.9 600.0 1242.0C586.7 1241.1 573.3 1240.1 560.0 1239.0C546.7 1237.9 533.3 1236.6 520.0 1235.2C506.7 1233.8 493.3 1232.3 480.0 1230.5C466.6 1228.7 453.3 1226.4 440.0 1224.5C426.7 1222.6 413.3 1221.2 400.0 1219.2C389.3 1217.6 378.6 1215.9 368.0 1213.9C360.0 1212.4 351.9 1211.0 344.0 1208.8C339.9 1207.7 335.6 1206.1 332.0 1204.0C330.2 1202.9 328.8 1201.0 327.7 1199.2C327.0 1198.1 326.9 1196.7 326.8 1195.4C326.7 1194.6 327.1 1193.8 327.2 1193.0" fill="none" stroke="#000" stroke-width="2.5" stroke-linecap="round" stroke-linejoin="round"/>
<polygon points="396.9,1105.5 502.6,1116.6 415.0,1148.8" fill="#ff0000"/>
<polygon points="293.3,1352.5 245.3,1402.7 332.5,1404.5" fill="#ff0000"/>
<polygon points="748.0,1249.7 849.1,1231.0 842.5,1275.6" fill="#ff0000"/>
<path d="M253.6 1623.6L310.8 1623.0M291.7 1622.2L310.8 1623.0L292.1 1624.2M253.6 1590.8L310.8 1590.2M291.7 1589.4L310.8 1590.2L292.1 1591.4M253.6 1558.1L310.8 1557.4M291.7 1556.6L310.8 1557.4L292.1 1558.7M253.6 1525.3L310.8 1524.7M291.7 1523.9L310.8 1524.7L292.1 1525.9M253.6 1492.5L310.8 1491.9M291.7 1491.1L310.8 1491.9L292.1 1493.1M253.6 1459.8L310.8 1459.2M291.7 1458.3L310.8 1459.2L292.1 1460.4M253.6 1427.0L310.8 1426.4M291.7 1425.6L310.8 1426.4L292.1 1427.6M253.6 1394.2L310.8 1393.6M291.7 1392.8L310.8 1393.6L292.1 1394.9M253.6 1361.5L310.8 1360.9M291.7 1360.0L310.8 1360.9L292.1 1362.1M253.6 1328.7L310.8 1328.1M291.7 1327.3L310.8 1328.1L292.1 1329.3M253.6 1295.9L310.8 1295.4M291.7 1294.5L310.8 1295.4L292.1 1296.6M253.6 1263.1L310.8 1262.6M291.7 1261.8L310.8 1262.6L292.1 1263.8M253.6 1230.4L310.8 1229.8M291.7 1229.0L310.8 1229.8L292.1 1231.0M253.6 1197.6L310.8 1197.1M291.7 1196.2L310.8 1197.1L292.1 1198.3M253.6 1164.8L310.8 1164.3M291.7 1163.5L310.8 1164.3L292.1 1165.5M253.6 1132.1L310.8 1131.6M291.7 1130.7L310.8 1131.6L292.1 1132.8M253.6 1099.3L310.8 1098.8M291.8 1097.9L310.8 1098.8L292.1 1100.0M253.6 1066.5L310.8 1066.1M291.8 1065.2L310.8 1066.1L292.1 1067.2M253.6 1033.8L310.8 1033.3M291.8 1032.4L310.8 1033.3L292.1 1034.5M253.6 1001.0L310.8 1000.6M291.8 999.7L310.8 1000.6L292.1 1001.7M396.7 1623.6L340.5 1621.2M358.2 1623.0L340.5 1621.2L359.9 1621.0M396.7 1590.8L340.5 1588.5M358.2 1590.3L340.5 1588.5L359.9 1588.2M396.7 1558.1L340.5 1555.7M358.2 1557.5L340.5 1555.7L359.9 1555.5M396.7 1525.3L340.5 1522.9M358.2 1524.7L340.5 1522.9L359.9 1522.7M396.7 1492.5L340.5 1490.1M358.2 1491.9L340.5 1490.1L360.0 1489.9M396.7 1459.8L340.6 1457.2M358.2 1459.1L340.6 1457.2L360.0 1457.1M396.7 1427.0L340.7 1424.3M358.3 1426.2L340.7 1424.3L360.1 1424.2M396.7 1394.2L340.9 1391.4M358.3 1393.3L340.9 1391.4L360.3 1391.3M396.7 1361.5L341.1 1358.4M358.4 1360.4L341.1 1358.4L360.6 1358.4M396.7 1328.7L341.5 1325.3M358.5 1327.4L341.5 1325.3L361.0 1325.4M396.7 1295.9L342.2 1292.0M358.8 1294.3L342.2 1292.0L361.6 1292.3M396.7 1263.1L343.6 1258.4M359.4 1260.9L343.6 1258.4L362.8 1259.0M396.7 1230.4L346.8 1224.1M361.0 1227.1L346.8 1224.1L365.5 1225.3M396.7 1197.6L356.6 1188.4M366.6 1192.2L356.6 1188.4L373.1 1190.7M396.7 1164.8L392.4 1152.0M389.3 1156.3L392.4 1152.0L398.4 1156.2M396.7 1132.1L436.1 1122.7M419.8 1125.1L436.1 1122.7L426.5 1126.5M396.7 1099.3L448.4 1093.8M429.4 1094.7L448.4 1093.8L433.3 1096.5M396.7 1066.5L451.6 1062.9M432.2 1063.1L451.6 1062.9L434.8 1065.1M396.7 1033.8L452.8 1031.1M433.4 1031.0L452.8 1031.1L435.2 1033.0M396.7 1001.0L453.3 999.0M433.9 998.6L453.3 999.0L435.4 1000.7M539.9 1623.6L483.5 1621.4M501.3 1623.1L483.5 1621.4L502.9 1621.1M539.9 1590.8L483.5 1588.7M501.3 1590.4L483.5 1588.7L502.9 1588.4M539.9 1558.1L483.4 1555.9M501.3 1557.7L483.4 1555.9L502.8 1555.6M539.9 1525.3L483.4 1523.2M501.3 1524.9L483.4 1523.2L502.8 1522.9M539.9 1492.5L483.4 1490.4M501.3 1492.1L483.4 1490.4L502.8 1490.1M539.9 1459.8L483.4 1457.6M501.3 1459.3L483.4 1457.6L502.8 1457.3M539.9 1427.0L483.5 1424.8M501.3 1426.5L483.5 1424.8L502.9 1424.5M539.9 1394.2L483.6 1391.9M501.3 1393.7L483.6 1391.9L503.0 1391.7M539.9 1361.5L483.7 1359.0M501.4 1360.8L483.7 1359.0L503.1 1358.8M539.9 1328.7L483.9 1326.0M501.4 1327.9L483.9 1326.0L503.3 1325.9M539.9 1295.9L484.2 1292.9M501.5 1294.9L484.2 1292.9L503.7 1292.9M539.9 1263.1L485.0 1259.5M501.8 1261.7L485.0 1259.5L504.4 1259.7M539.9 1230.4L486.8 1225.5M502.6 1228.1L486.8 1225.5L506.1 1226.2M539.9 1197.6L494.3 1189.8M506.6 1193.2L494.3 1189.8L512.1 1191.6M539.9 1164.8L545.2 1152.0M538.9 1156.2L545.2 1152.0L548.0 1156.3M539.9 1132.1L590.1 1125.9M571.4 1127.0L590.1 1125.9L575.8 1128.8M539.9 1099.3L595.4 1096.1M576.0 1096.2L595.4 1096.1L578.2 1098.2M539.9 1066.5L596.5 1064.6M577.1 1064.2L596.5 1064.6L578.5 1066.2M539.9 1033.8L596.9 1032.5M577.6 1031.9L596.9 1032.5L578.5 1033.9M539.9 1001.0L597.0 1000.1M577.8 999.3L597.0 1000.1L578.5 1001.4M683.1 1623.6L626.6 1621.4M644.5 1623.2L626.6 1621.4L646.0 1621.1M683.1 1590.8L626.6 1588.8M644.5 1590.5L626.6 1588.8L646.0 1588.4M683.1 1558.1L626.5 1556.1M644.5 1557.7L626.5 1556.1L645.9 1555.7M683.1 1525.3L626.5 1523.3M644.4 1525.0L626.5 1523.3L645.8 1523.0M683.1 1492.5L626.4 1490.6M644.4 1492.3L626.4 1490.6L645.8 1490.2M683.1 1459.8L626.4 1457.9M644.4 1459.5L626.4 1457.9L645.8 1457.5M683.1 1427.0L626.4 1425.1M644.4 1426.8L626.4 1425.1L645.8 1424.7M683.1 1394.2L626.4 1392.3M644.4 1394.0L626.4 1392.3L645.8 1391.9M683.1 1361.5L626.5 1359.5M644.4 1361.2L626.5 1359.5L645.8 1359.1M683.1 1328.7L626.5 1326.6M644.5 1328.3L626.5 1326.6L645.9 1326.3M683.1 1295.9L626.7 1293.7M644.5 1295.4L626.7 1293.7L646.1 1293.4M683.1 1263.1L627.0 1260.5M644.6 1262.4L627.0 1260.5L646.4 1260.4M683.1 1230.4L627.9 1227.0M644.9 1229.1L627.9 1227.0L647.3 1227.1M683.1 1197.6L633.1 1191.3M647.4 1194.3L633.1 1191.3L651.8 1192.5M683.1 1164.8L725.3 1156.1M708.2 1158.3L725.3 1156.1L714.4 1159.8M683.1 1132.1L739.5 1129.9M720.1 1129.6L739.5 1129.9L721.7 1131.6M683.1 1099.3L740.2 1098.4M721.0 1097.7L740.2 1098.4L721.7 1099.7M683.1 1066.5L740.3 1066.2M721.3 1065.2L740.3 1066.2L721.5 1067.3M683.1 1033.8L740.3 1033.6M721.4 1032.7L740.3 1033.6L721.5 1034.7M683.1 1001.0L740.3 1001.0M721.4 1000.0L740.3 1001.0L721.4 1002.0M826.2 1623.6L769.8 1621.5M787.6 1623.2L769.8 1621.5L789.2 1621.2M826.2 1590.8L769.7 1588.8M787.6 1590.5L769.7 1588.8L789.1 1588.5M826.2 1558.1L769.6 1556.2M787.6 1557.8L769.6 1556.2L789.0 1555.8M826.2 1525.3L769.5 1523.5M787.6 1525.1L769.5 1523.5L788.9 1523.1M826.2 1492.5L769.5 1490.8M787.6 1492.4L769.5 1490.8L788.8 1490.4M826.2 1459.8L769.4 1458.1M787.6 1459.7L769.4 1458.1L788.7 1457.7M826.2 1427.0L769.4 1425.5M787.6 1427.0L769.4 1425.5L788.7 1424.9M826.2 1394.2L769.3 1392.8M787.6 1394.3L769.3 1392.8L788.6 1392.2M826.2 1361.5L769.3 1360.1M787.6 1361.5L769.3 1360.1L788.6 1359.5M826.2 1328.7L769.3 1327.3M787.6 1328.8L769.3 1327.3L788.5 1326.8M826.2 1295.9L769.2 1294.6M787.6 1296.1L769.2 1294.6L788.5 1294.0M826.2 1263.1L769.2 1261.9M787.6 1263.3L769.2 1261.9L788.5 1261.3M826.2 1230.4L769.2 1229.2M787.6 1230.6L769.2 1229.2L788.4 1228.6M826.2 1197.6L769.2 1196.5M787.6 1197.9L769.2 1196.5L788.4 1195.9M826.2 1164.8L883.2 1166.0M864.9 1164.6L883.2 1166.0L864.0 1166.7M826.2 1132.1L883.3 1133.2M864.8 1131.8L883.3 1133.2L864.1 1133.8M826.2 1099.3L883.3 1100.3M864.8 1099.0L883.3 1100.3L864.1 1101.0M826.2 1066.5L883.3 1067.5M864.8 1066.2L883.3 1067.5L864.1 1068.2M826.2 1033.8L883.3 1034.7M864.8 1033.4L883.3 1034.7L864.1 1035.4M826.2 1001.0L883.3 1001.9M864.8 1000.6L883.3 1001.9L864.1 1002.7M969.4 1623.6L912.9 1621.5M930.8 1623.2L912.9 1621.5L932.3 1621.2M969.4 1590.8L912.8 1588.9M930.8 1590.6L912.8 1588.9L932.2 1588.5M969.4 1558.1L912.7 1556.3M930.8 1557.9L912.7 1556.3L932.0 1555.9M969.4 1525.3L912.6 1523.7M930.7 1525.2L912.6 1523.7L931.9 1523.2M969.4 1492.5L912.5 1491.1M930.7 1492.6L912.5 1491.1L931.8 1490.5M969.4 1459.8L912.4 1458.5M930.8 1459.9L912.4 1458.5L931.7 1457.9M969.4 1427.0L912.4 1425.8M930.8 1427.2L912.4 1425.8L931.6 1425.2M969.4 1394.2L912.3 1393.2M930.8 1394.6L912.3 1393.2L931.5 1392.5M969.4 1361.5L912.2 1360.7M930.8 1362.0L912.2 1360.7L931.4 1359.9M969.4 1328.7L912.2 1328.2M930.9 1329.4L912.2 1328.2L931.2 1327.3M969.4 1295.9L912.1 1295.7M931.0 1296.8L912.1 1295.7L931.1 1294.8M969.4 1263.1L912.2 1263.6M931.2 1264.4L912.2 1263.6L930.9 1262.4M969.4 1230.4L912.6 1232.1M932.0 1232.6L912.6 1232.1L930.8 1230.5M969.4 1197.6L922.6 1205.0M940.7 1203.4L922.6 1205.0L935.4 1201.7M969.4 1164.8L1016.4 1172.2M1003.5 1168.9L1016.4 1172.2L998.3 1170.6M969.4 1132.1L1024.0 1135.9M1007.4 1133.7L1024.0 1135.9L1004.6 1135.6M969.4 1099.3L1025.3 1102.1M1007.8 1100.2L1025.3 1102.1L1005.8 1102.2M969.4 1066.5L1025.7 1068.9M1007.9 1067.1L1025.7 1068.9L1006.3 1069.1M969.4 1033.8L1025.9 1035.8M1008.0 1034.1L1025.9 1035.8L1006.5 1036.1M969.4 1001.0L1026.1 1002.8M1008.0 1001.2L1026.1 1002.8L1006.7 1003.2M1112.5 1623.6L1056.1 1621.5M1073.9 1623.2L1056.1 1621.5L1075.4 1621.2M1112.5 1590.8L1055.9 1589.0M1073.9 1590.6L1055.9 1589.0L1075.3 1588.6M1112.5 1558.1L1055.8 1556.4M1073.9 1558.0L1055.8 1556.4L1075.1 1555.9M1112.5 1525.3L1055.6 1523.9M1073.9 1525.4L1055.6 1523.9L1074.9 1523.3M1112.5 1492.5L1055.5 1491.3M1073.9 1492.7L1055.5 1491.3L1074.8 1490.7M1112.5 1459.8L1055.5 1458.8M1073.9 1460.1L1055.5 1458.8L1074.7 1458.1M1112.5 1427.0L1055.4 1426.2M1074.0 1427.5L1055.4 1426.2L1074.5 1425.5M1112.5 1394.2L1055.3 1393.7M1074.0 1394.9L1055.3 1393.7L1074.4 1392.9M1112.5 1361.5L1055.3 1361.3M1074.1 1362.4L1055.3 1361.3L1074.2 1360.3M1112.5 1328.7L1055.3 1329.0M1074.3 1329.9L1055.3 1329.0L1074.1 1327.9M1112.5 1295.9L1055.5 1296.9M1074.7 1297.6L1055.5 1296.9L1073.9 1295.6M1112.5 1263.1L1056.1 1265.3M1075.5 1265.6L1056.1 1265.3L1074.0 1263.6M1112.5 1230.4L1059.4 1235.2M1078.7 1234.5L1059.4 1235.2L1075.2 1232.6M1112.5 1197.6L1087.0 1209.1M1099.5 1205.8L1087.0 1209.1L1091.3 1204.9M1112.5 1164.8L1150.5 1174.5M1141.4 1170.6L1150.5 1174.5L1134.5 1172.0M1112.5 1132.1L1163.4 1138.0M1148.7 1135.1L1163.4 1138.0L1144.5 1136.9M1112.5 1099.3L1166.4 1103.7M1150.2 1101.2L1166.4 1103.7L1147.1 1103.2M1112.5 1066.5L1167.6 1070.1M1150.7 1067.9L1167.6 1070.1L1148.2 1069.9M1112.5 1033.8L1168.2 1036.8M1150.9 1034.8L1168.2 1036.8L1148.7 1036.8M1112.5 1001.0L1168.5 1003.7M1151.0 1001.8L1168.5 1003.7L1149.1 1003.8M1255.7 1623.6L1199.2 1621.5M1217.1 1623.2L1199.2 1621.5L1218.6 1621.2M1255.7 1590.8L1199.0 1589.0M1217.1 1590.6L1199.0 1589.0L1218.4 1588.6M1255.7 1558.1L1198.9 1556.5M1217.1 1558.1L1198.9 1556.5L1218.2 1556.0M1255.7 1525.3L1198.7 1524.0M1217.1 1525.5L1198.7 1524.0L1218.0 1523.4M1255.7 1492.5L1198.6 1491.5M1217.1 1492.9L1198.6 1491.5L1217.8 1490.8M1255.7 1459.8L1198.5 1459.1M1217.1 1460.3L1198.5 1459.1L1217.6 1458.3M1255.7 1427.0L1198.5 1426.6M1217.2 1427.8L1198.5 1426.6L1217.5 1425.7M1255.7 1394.2L1198.4 1394.3M1217.4 1395.3L1198.4 1394.3L1217.3 1393.2M1255.7 1361.5L1198.5 1362.0M1217.6 1362.9L1198.5 1362.0L1217.2 1360.8M1255.7 1328.7L1198.7 1330.0M1218.0 1330.6L1198.7 1330.0L1217.1 1328.5M1255.7 1295.9L1199.4 1298.2M1218.8 1298.5L1199.4 1298.2L1217.1 1296.5M1255.7 1263.1L1201.5 1267.3M1220.9 1266.9L1201.5 1267.3L1217.9 1264.9M1255.7 1230.4L1209.9 1238.1M1227.8 1236.4L1209.9 1238.1L1222.3 1234.7M1255.7 1197.6L1246.0 1210.3M1253.7 1206.3L1246.0 1210.3L1244.7 1205.9M1255.7 1164.8L1289.3 1175.3M1281.9 1171.2L1289.3 1175.3L1274.5 1172.4M1255.7 1132.1L1302.9 1139.4M1289.9 1136.1L1302.9 1139.4L1284.7 1137.8M1255.7 1099.3L1307.3 1104.9M1292.2 1102.1L1307.3 1104.9L1288.3 1104.0M1255.7 1066.5L1309.2 1071.1M1293.2 1068.6L1309.2 1071.1L1289.9 1070.6M1255.7 1033.8L1310.2 1037.7M1293.6 1035.4L1310.2 1037.7L1290.8 1037.4M1255.7 1001.0L1310.8 1004.5M1293.9 1002.3L1310.8 1004.5L1291.4 1004.3M1398.9 1623.6L1342.4 1621.5M1360.3 1623.2L1342.4 1621.5L1361.8 1621.2M1398.9 1590.8L1342.1 1589.1M1360.2 1590.7L1342.1 1589.1L1361.5 1588.7M1398.9 1558.1L1342.0 1556.7M1360.2 1558.1L1342.0 1556.7L1361.2 1556.1M1398.9 1525.3L1341.8 1524.2M1360.3 1525.6L1341.8 1524.2L1361.0 1523.5M1398.9 1492.5L1341.7 1491.8M1360.3 1493.1L1341.7 1491.8L1360.8 1491.0M1398.9 1459.8L1341.6 1459.4M1360.4 1460.6L1341.6 1459.4L1360.6 1458.5M1398.9 1427.0L1341.6 1427.1M1360.5 1428.1L1341.6 1427.1L1360.5 1426.0M1398.9 1394.2L1341.7 1394.8M1360.8 1395.7L1341.7 1394.8L1360.3 1393.6M1398.9 1361.5L1341.9 1362.8M1361.2 1363.3L1341.9 1362.8L1360.2 1361.3M1398.9 1328.7L1342.5 1330.9M1361.9 1331.2L1342.5 1330.9L1360.3 1329.2M1398.9 1295.9L1343.9 1299.5M1363.3 1299.3L1343.9 1299.5L1360.8 1297.3M1398.9 1263.1L1347.9 1269.0M1366.8 1268.0L1347.9 1269.0L1362.6 1266.2M1398.9 1230.4L1360.6 1239.9M1376.7 1237.5L1360.6 1239.9L1369.8 1236.1M1398.9 1197.6L1394.1 1210.4M1400.3 1206.3L1394.1 1210.4L1391.1 1206.1M1398.9 1164.8L1427.6 1176.0M1422.1 1171.8L1427.6 1176.0L1414.1 1172.8M1398.9 1132.1L1441.9 1140.5M1430.7 1137.0L1441.9 1140.5L1424.7 1138.5M1398.9 1099.3L1447.7 1106.0M1434.0 1102.9L1447.7 1106.0L1429.2 1104.7M1398.9 1066.5L1450.4 1072.1M1435.4 1069.4L1450.4 1072.1L1431.4 1071.2M1398.9 1033.8L1451.9 1038.6M1436.1 1036.1L1451.9 1038.6L1432.7 1038.0M1398.9 1001.0L1452.8 1005.3M1436.6 1002.9L1452.8 1005.3L1433.5 1004.8" fill="none" stroke="#0000ff" stroke-width="2.5" stroke-linecap="butt" stroke-linejoin="round"/>
<g opacity="0.999">
<text transform="translate(100.67,748.50) scale(1.1324,1.0532)" font-size="46" style="stroke-width:0.2px">0</text>
<text transform="translate(74.95,584.02) scale(1.1561,1.0532)" font-size="46" style="stroke-width:0.2px">100</text>
<text transform="translate(73.38,419.55) scale(1.1771,1.0532)" font-size="46" style="stroke-width:0.2px">200</text>
<text transform="translate(73.95,255.07) scale(1.1694,1.0532)" font-size="46" style="stroke-width:0.2px">300</text>
<text transform="translate(74.47,90.60) scale(1.1624,1.0532)" font-size="46" style="stroke-width:0.2px">400</text>
<text transform="translate(100.67,1657.70) scale(1.1324,1.0532)" font-size="46" style="stroke-width:0.2px">0</text>
<text transform="translate(74.95,1493.85) scale(1.1561,1.0532)" font-size="46" style="stroke-width:0.2px">100</text>
<text transform="translate(73.38,1330.00) scale(1.1771,1.0532)" font-size="46" style="stroke-width:0.2px">200</text>
<text transform="translate(73.95,1166.15) scale(1.1694,1.0532)" font-size="46" style="stroke-width:0.2px">300</text>
<text transform="translate(74.47,1002.30) scale(1.1624,1.0532)" font-size="46" style="stroke-width:0.2px">400</text>
<text transform="translate(168.19,790.80) scale(1.1187,1.0532)" font-size="46" style="stroke-width:0.2px">0</text>
<text transform="translate(383.80,790.80) scale(1.0546,1.0532)" font-size="46" style="stroke-width:0.2px">5</text>
<text transform="translate(584.73,790.80) scale(1.1272,1.0532)" font-size="46" style="stroke-width:0.2px">10</text>
<text transform="translate(799.46,790.80) scale(1.1305,1.0532)" font-size="46" style="stroke-width:0.2px">15</text>
<text transform="translate(1013.31,790.80) scale(1.1476,1.0532)" font-size="46" style="stroke-width:0.2px">20</text>
<text transform="translate(1228.05,790.80) scale(1.1509,1.0532)" font-size="46" style="stroke-width:0.2px">25</text>
<text transform="translate(1444.44,790.80) scale(1.1445,1.0532)" font-size="46" style="stroke-width:0.2px">30</text>
<text transform="translate(168.19,1700.10) scale(1.1187,1.0532)" font-size="46" style="stroke-width:0.2px">0</text>
<text transform="translate(311.32,1700.10) scale(1.1214,1.0532)" font-size="46" style="stroke-width:0.2px">2</text>
<text transform="translate(454.64,1700.10) scale(1.1217,1.0532)" font-size="46" style="stroke-width:0.2px">4</text>
<text transform="translate(596.85,1700.10) scale(1.1684,1.0532)" font-size="46" style="stroke-width:0.2px">6</text>
<text transform="translate(740.74,1700.10) scale(1.1258,1.0532)" font-size="46" style="stroke-width:0.2px">8</text>
<text transform="translate(871.06,1700.10) scale(1.1272,1.0532)" font-size="46" style="stroke-width:0.2px">10</text>
<text transform="translate(1014.17,1700.10) scale(1.1401,1.0532)" font-size="46" style="stroke-width:0.2px">12</text>
<text transform="translate(1157.42,1700.10) scale(1.1163,1.0532)" font-size="46" style="stroke-width:0.2px">14</text>
<text transform="translate(1300.52,1700.10) scale(1.1328,1.0532)" font-size="46" style="stroke-width:0.2px">16</text>
<text transform="translate(1443.68,1700.10) scale(1.1322,1.0532)" font-size="46" style="stroke-width:0.2px">18</text>
<text transform="translate(619.59,851.90) scale(1.0746,1.0843)" font-size="50">Pore</text>
<text transform="translate(750.43,851.90) scale(1.1133,1.0843)" font-size="50">Radius</text>
<text transform="translate(942.19,849.00) scale(0.9052,1.0090)" font-size="50">(</text>
<text transform="translate(961.01,851.90) scale(1.2014,1.0843)" font-size="50">nm</text>
<text transform="translate(1048.23,849.00) scale(0.9052,1.0090)" font-size="50">)</text>
<text transform="translate(619.59,1760.70) scale(1.0746,1.0843)" font-size="50">Pore</text>
<text transform="translate(750.43,1760.70) scale(1.1133,1.0843)" font-size="50">Radius</text>
<text transform="translate(942.19,1757.80) scale(0.9052,1.0090)" font-size="50">(</text>
<text transform="translate(961.01,1760.70) scale(1.2014,1.0843)" font-size="50">nm</text>
<text transform="translate(1048.23,1757.80) scale(0.9052,1.0090)" font-size="50">)</text>
<text transform="translate(40.30,774.10) rotate(-90) scale(1.1561,1.0843)" font-size="50">Transmembrane</text>
<text transform="translate(40.30,335.25) rotate(-90) scale(1.1511,1.0843)" font-size="50">Voltage</text>
<text transform="translate(37.40,123.85) rotate(-90) scale(0.9203,1.0090)" font-size="50">(</text>
<text transform="translate(40.30,104.49) rotate(-90) scale(1.1405,1.0843)" font-size="50">mV</text>
<text transform="translate(37.40,15.87) rotate(-90) scale(0.9203,1.0090)" font-size="50">)</text>
<text transform="translate(40.30,1685.20) rotate(-90) scale(1.1561,1.0843)" font-size="50">Transmembrane</text>
<text transform="translate(40.30,1246.35) rotate(-90) scale(1.1511,1.0843)" font-size="50">Voltage</text>
<text transform="translate(37.40,1034.95) rotate(-90) scale(0.9203,1.0090)" font-size="50">(</text>
<text transform="translate(40.30,1015.59) rotate(-90) scale(1.1405,1.0843)" font-size="50">mV</text>
<text transform="translate(37.40,926.97) rotate(-90) scale(0.9203,1.0090)" font-size="50">)</text>
<text transform="translate(670.04,56.50) scale(1.4047,1.0594)" font-size="52" font-weight="bold" style="stroke-width:0.9px">j</text>
<text transform="translate(822.06,56.50) scale(1.1482,1.0594)" font-size="52" font-weight="bold" style="stroke-width:0.9px">mA</text>
<text transform="translate(935.21,56.50) scale(1.1924,1.0594)" font-size="52" font-weight="bold" style="stroke-width:0.9px">m</text>
<path d="M712.4 30.9H745.3v5.9H712.4ZM712.4 42.7H745.3v6H712.4Z" fill="#000"/>
<path d="M782.7 18.5H793.3V49.8H801.3V56.5H774.0V49.8H780.7V25.2L774.0 27.2V20.8Z" fill="#000"/>
<text transform="translate(988.88,27.00) scale(1.3675,1.0383)" font-size="36" font-weight="bold" style="stroke-width:0.9px">-</text>
<text transform="translate(1005.61,27.00) scale(1.3559,1.0383)" font-size="36" font-weight="bold" style="stroke-width:0.9px">2</text>
<text transform="translate(649.94,967.50) scale(1.4047,1.0594)" font-size="52" font-weight="bold" style="stroke-width:0.9px">j</text>
<text transform="translate(747.40,967.50) scale(1.2648,1.0594)" font-size="52" font-weight="bold" style="stroke-width:0.9px">0.5</text>
<text transform="translate(858.59,967.50) scale(1.1394,1.0594)" font-size="52" font-weight="bold" style="stroke-width:0.9px">mA</text>
<text transform="translate(970.97,967.50) scale(1.1747,1.0594)" font-size="52" font-weight="bold" style="stroke-width:0.9px">m</text>
<path d="M691.8 941.9H725.0v5.9H691.8ZM691.8 953.7H725.0v6H691.8Z" fill="#000"/>
<text transform="translate(1023.46,938.00) scale(1.3785,1.0383)" font-size="36" font-weight="bold" style="stroke-width:0.9px">-</text>
<text transform="translate(1039.38,938.00) scale(1.2982,1.0383)" font-size="36" font-weight="bold" style="stroke-width:0.9px">2</text>
</g>
</svg></body></html>
